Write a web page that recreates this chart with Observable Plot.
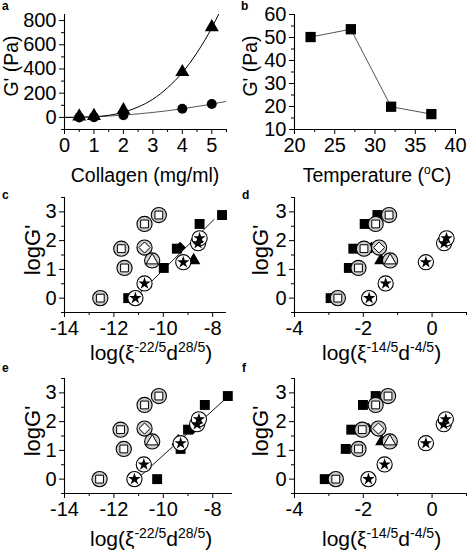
<!DOCTYPE html>
<html><head><meta charset="utf-8">
<script src="https://cdn.jsdelivr.net/npm/d3@7"></script>
<script src="https://cdn.jsdelivr.net/npm/@observablehq/plot@0.6"></script>
<style>
body{margin:0;background:#fff;}
#wrap{position:relative;width:469px;height:554px;overflow:hidden;background:#fff;font-family:'Liberation Sans',Arial,Helvetica,sans-serif;}
.panel{position:absolute;}
#overlay{position:absolute;left:0;top:0;pointer-events:none;}
</style></head><body><div id="wrap"></div>
<script>
// ---------- Panel a ----------
const aConc = [0.5, 1, 2, 4, 5];
const aTri = [8, 12, 60, 375, 745];
const aCirc = [0, 2, 17, 72, 110];
const aFitX = [0, 0.5, 1, 1.5, 2, 2.5, 3, 3.5, 4, 4.5, 5, 5.5];
const aFitUpper = [0, 1, 5, 17, 43, 86, 150, 245, 370, 535, 740, 990];
const aFitLower = [0, 1, 5, 11, 19, 29, 41, 55, 72, 90, 110, 133];
// ---------- Panel b ----------
const bTemp = [22, 27, 32, 37];
const bG = [50.2, 53.6, 19.9, 16.7];
// ---------- shared logG' values (c-f) ----------
const gSquare = [0, 1.05, 1.72, 2.58, 2.89];
const gDiamond = [1.76];
const gTriangle = [1.31];
const gStar = [0, 0.51, 1.25, 1.91, 2.08];
// ---------- Panel c ----------
const cOpenSqX = [-12.55, -11.57, -11.70, -10.76, -10.18];
const cFillSqX = [-11.42, -9.98, -9.45, -8.53, -7.62];
const cOpenDiaX = [-10.76], cFillDiaX = [-9.32];
const cOpenTriX = [-10.45], cFillTriX = [-8.77];
const cStarX = [-11.13, -10.76, -9.19, -8.59, -8.53];
const cLineX = [-11.3, -7.95], cLineY = [-0.12, 2.73];
// ---------- Panel d ----------
const dOpenSqX = [-2.74, -2.14, -1.98, -1.64, -1.25];
const dFillSqX = [-2.95, -2.42, -2.29, -1.96, -1.59];
const dOpenDiaX = [-1.54], dFillDiaX = [-1.76];
const dOpenTriX = [-1.22], dFillTriX = [-1.49];
const dStarX = [-1.83, -1.35, -0.18, 0.35, 0.42];
// ---------- Panel e ----------
const eOpenSqX = [-12.58, -11.60, -11.73, -10.76, -10.18];
const eFillSqX = [-10.25, -9.30, -9.00, -8.32, -7.39];
const eOpenDiaX = [-10.76], eFillDiaX = [-8.79];
const eOpenTriX = [-10.45], eFillTriX = [-9.40];
const eStarX = [-11.17, -10.79, -9.30, -8.63, -8.56];
const eLineX = [-11.13, -7.41], eLineY = [-0.05, 2.85];
// ---------- Panel f ----------
const fOpenSqX = [-2.80, -2.14, -2.03, -1.64, -1.28];
const fFillSqX = [-3.12, -2.51, -2.35, -2.01, -1.64];
const fOpenDiaX = [-1.56], fFillDiaX = [-1.86];
const fOpenTriX = [-1.23], fFillTriX = [-1.46];
const fStarX = [-1.85, -1.38, -0.18, 0.34, 0.40];
// ---------- ticks ----------
const aXMajor = [0,1,2,3,4,5], aXMinor = [0.5,1.5,2.5,3.5,4.5,5.5];
const aYMajor = [0,200,400,600,800], aYMinor = [-100,100,300,500,700];
const bXMajor = [20,25,30,35,40], bXMinor = [22.5,27.5,32.5,37.5];
const bYMajor = [10,20,30,40,50,60], bYMinor = [15,25,35,45,55];
const cXMajor = [-14,-12,-10,-8], cXMinor = [-13,-11,-9];
const dXMajor = [-4,-2,0], dXMinor = [-3,-1,1];
const gYMajor = [0,1,2,3], gYMinor = [-0.5,0.5,1.5,2.5,3.5];

const FONT = "'Liberation Sans', Arial, Helvetica, sans-serif";
const TICKFONT = 20;
const wrap = document.getElementById("wrap");

function axes(xMaj, xMin, yMaj, yMin, x0, y0) {
  const fmt = d => String(d);
  return [
    Plot.axisX({ticks: xMin, tickSize: 3, tickFormat: () => "", label: null, anchor: "bottom"}),
    Plot.axisY({ticks: yMin, tickSize: 3, tickFormat: () => "", label: null, anchor: "left"}),
    Plot.axisX({ticks: xMaj, tickSize: 5, tickPadding: 3, tickFormat: fmt, label: null, anchor: "bottom", fontSize: TICKFONT}),
    Plot.axisY({ticks: yMaj, tickSize: 5, tickPadding: 3, tickFormat: fmt, label: null, anchor: "left", fontSize: TICKFONT}),
    Plot.ruleX([x0], {stroke: "black", strokeWidth: 1.1}),
    Plot.ruleY([y0], {stroke: "black", strokeWidth: 1.1})
  ];
}

function place(svg, left, top) {
  const d = document.createElement("div");
  d.className = "panel";
  d.style.left = left + "px";
  d.style.top = top + "px";
  d.appendChild(svg);
  wrap.appendChild(d);
}

function base(opts) {
  return Object.assign({
    style: {fontFamily: FONT, fontSize: TICKFONT + "px", color: "black", background: "transparent", maxWidth: "none", overflow: "visible"}
  }, opts);
}

// Panel a
place(Plot.plot(base({
  width: 235, height: 180, marginLeft: 64, marginRight: 9, marginTop: 14, marginBottom: 51,
  x: {domain: [0, 5.5], label: null}, y: {domain: [-100, 850], label: null},
  marks: [
    ...axes(aXMajor, aXMinor, aYMajor, aYMinor, 0, -100),
    Plot.line(aFitX, {x: aFitX, y: aFitLower, curve: "natural", stroke: "#444", strokeWidth: 0.9, clip: true}),
    Plot.line(aFitX, {x: aFitX, y: aFitUpper, curve: "natural", stroke: "black", strokeWidth: 1, clip: true}),
    Plot.dot(aConc, {x: aConc, y: aCirc, symbol: "circle", r: 5, fill: "black"}),
    Plot.dot(aConc, {x: aConc, y: aTri, symbol: "triangle", r: 5.2, fill: "black"})
  ]
})), 0, 0);

// Panel b
place(Plot.plot(base({
  width: 234, height: 180, marginLeft: 59, marginRight: 14, marginTop: 14, marginBottom: 51,
  x: {domain: [20, 40], label: null}, y: {domain: [10, 60], label: null},
  marks: [
    ...axes(bXMajor, bXMinor, bYMajor, bYMinor, 20, 10),
    Plot.line(bTemp, {x: bTemp, y: bG, stroke: "#555", strokeWidth: 1}),
    Plot.dot(bTemp, {x: bTemp, y: bG, symbol: "square", r: 5.8, fill: "black"})
  ]
})), 235, 0);

function scatter(cfg) {
  const m = [...axes(cfg.xMaj, cfg.xMin, gYMajor, gYMinor, cfg.domain[0], -0.5)];
  if (cfg.lineX) m.push(Plot.line(cfg.lineX, {x: cfg.lineX, y: cfg.lineY, stroke: "black", strokeWidth: 0.9}));
  const ring = "#cfcfcf";
  m.push(
    Plot.dot(cfg.fillSq, {x: cfg.fillSq, y: gSquare, symbol: "square", r: 5.6, fill: "black"}),
    Plot.dot(cfg.fillDia, {x: cfg.fillDia, y: gDiamond, symbol: "diamond2", r: 5.2, fill: "black"}),
    Plot.dot(cfg.fillTri, {x: cfg.fillTri, y: gTriangle, symbol: "triangle", r: 5, fill: "black"}),
    Plot.dot(cfg.openSq, {x: cfg.openSq, y: gSquare, symbol: "circle", r: 7.6, fill: ring, stroke: "black", strokeWidth: 1.1}),
    Plot.dot(cfg.openSq, {x: cfg.openSq, y: gSquare, symbol: "square", r: 4.4, fill: "white", stroke: "black", strokeWidth: 1}),
    Plot.dot(cfg.openDia, {x: cfg.openDia, y: gDiamond, symbol: "circle", r: 7.6, fill: ring, stroke: "black", strokeWidth: 1.1}),
    Plot.dot(cfg.openDia, {x: cfg.openDia, y: gDiamond, symbol: "diamond2", r: 5, fill: "white", stroke: "black", strokeWidth: 1}),
    Plot.dot(cfg.openTri, {x: cfg.openTri, y: gTriangle, symbol: "circle", r: 7.6, fill: ring, stroke: "black", strokeWidth: 1.1}),
    Plot.dot(cfg.openTri, {x: cfg.openTri, y: gTriangle, symbol: "triangle", r: 4.4, fill: "white", stroke: "black", strokeWidth: 1}),
    Plot.dot(cfg.star, {x: cfg.star, y: gStar, symbol: "circle", r: 7.6, fill: "white", stroke: "black", strokeWidth: 1.1}),
    Plot.dot(cfg.star, {x: cfg.star, y: gStar, symbol: "star", r: 3.9, fill: "black"})
  );
  return Plot.plot(base({
    width: cfg.w, height: 185, marginLeft: cfg.mL, marginRight: cfg.mR, marginTop: 17, marginBottom: 53,
    x: {domain: cfg.domain, label: null}, y: {domain: [-0.5, 3.5], label: null},
    marks: m
  }));
}

place(scatter({w: 235, mL: 64, mR: 9, domain: [-14, -7.44], xMaj: cXMajor, xMin: cXMinor,
  openSq: cOpenSqX, fillSq: cFillSqX, openDia: cOpenDiaX, fillDia: cFillDiaX, openTri: cOpenTriX, fillTri: cFillTriX, star: cStarX,
  lineX: cLineX, lineY: cLineY}), 0, 180);
place(scatter({w: 234, mL: 59, mR: 2, domain: [-4, 1.03], xMaj: dXMajor, xMin: dXMinor,
  openSq: dOpenSqX, fillSq: dFillSqX, openDia: dOpenDiaX, fillDia: dFillDiaX, openTri: dOpenTriX, fillTri: dFillTriX, star: dStarX}), 235, 180);
place(scatter({w: 235, mL: 64, mR: 3, domain: [-14, -7.2], xMaj: cXMajor, xMin: cXMinor,
  openSq: eOpenSqX, fillSq: eFillSqX, openDia: eOpenDiaX, fillDia: eFillDiaX, openTri: eOpenTriX, fillTri: eFillTriX, star: eStarX,
  lineX: eLineX, lineY: eLineY}), 0, 361);
place(scatter({w: 234, mL: 59, mR: 2, domain: [-4, 1.03], xMaj: dXMajor, xMin: dXMinor,
  openSq: fOpenSqX, fillSq: fFillSqX, openDia: fOpenDiaX, fillDia: fFillDiaX, openTri: fOpenTriX, fillTri: fFillTriX, star: fStarX}), 235, 361);

// ---------- overlay text ----------
const NS = "http://www.w3.org/2000/svg";
const ov = document.createElementNS(NS, "svg");
ov.setAttribute("id", "overlay");
ov.setAttribute("width", 469);
ov.setAttribute("height", 554);
ov.setAttribute("font-family", FONT);
wrap.appendChild(ov);

function txt(x, y, parts, opt = {}) {
  const t = document.createElementNS(NS, "text");
  t.setAttribute("x", x); t.setAttribute("y", y);
  t.setAttribute("font-size", opt.size || 20);
  t.setAttribute("text-anchor", opt.anchor || "middle");
  if (opt.bold) t.setAttribute("font-weight", "bold");
  if (opt.rotate) t.setAttribute("transform", `rotate(-90 ${x} ${y})`);
  for (const p of parts) {
    const s = document.createElementNS(NS, "tspan");
    s.textContent = p.t;
    if (p.dy) s.setAttribute("dy", p.dy);
    if (p.size) s.setAttribute("font-size", p.size);
    t.appendChild(s);
  }
  ov.appendChild(t);
}
const logXc = [{t: "log(ξ"}, {t: "-22/5", dy: -8, size: 14}, {t: "d", dy: 8}, {t: "28/5", dy: -8, size: 14}, {t: ")", dy: 8}];
const logXd = [{t: "log(ξ"}, {t: "-14/5", dy: -8, size: 14}, {t: "d", dy: 8}, {t: "-4/5", dy: -8, size: 14}, {t: ")", dy: 8}];

txt(2, 10, [{t: "a"}], {size: 12, bold: true, anchor: "start"});
txt(241, 10, [{t: "b"}], {size: 12, bold: true, anchor: "start"});
txt(2, 199, [{t: "c"}], {size: 12, bold: true, anchor: "start"});
txt(242, 199, [{t: "d"}], {size: 12, bold: true, anchor: "start"});
txt(2, 372, [{t: "e"}], {size: 12, bold: true, anchor: "start"});
txt(242, 372, [{t: "f"}], {size: 12, bold: true, anchor: "start"});

txt(18, 66, [{t: "G' (Pa)"}], {size: 19.5, rotate: true});
txt(257, 66, [{t: "G' (Pa)"}], {size: 19.5, rotate: true});
txt(145, 182, [{t: "Collagen (mg/ml)"}], {size: 19.5});
txt(377, 182, [{t: "Temperature ("}, {t: "o", dy: -8, size: 12}, {t: "C)", dy: 8}], {size: 19.5});

txt(40, 250, [{t: "logG'"}], {size: 22, rotate: true});
txt(268, 250, [{t: "logG'"}], {size: 22, rotate: true});
txt(40, 431, [{t: "logG'"}], {size: 22, rotate: true});
txt(268, 431, [{t: "logG'"}], {size: 22, rotate: true});

txt(90, 360, logXc, {size: 21, anchor: "start"});
txt(322, 360, logXd, {size: 21, anchor: "start"});
txt(90, 546, logXc, {size: 21, anchor: "start"});
txt(322, 546, logXd, {size: 21, anchor: "start"});
</script>
</body></html>
